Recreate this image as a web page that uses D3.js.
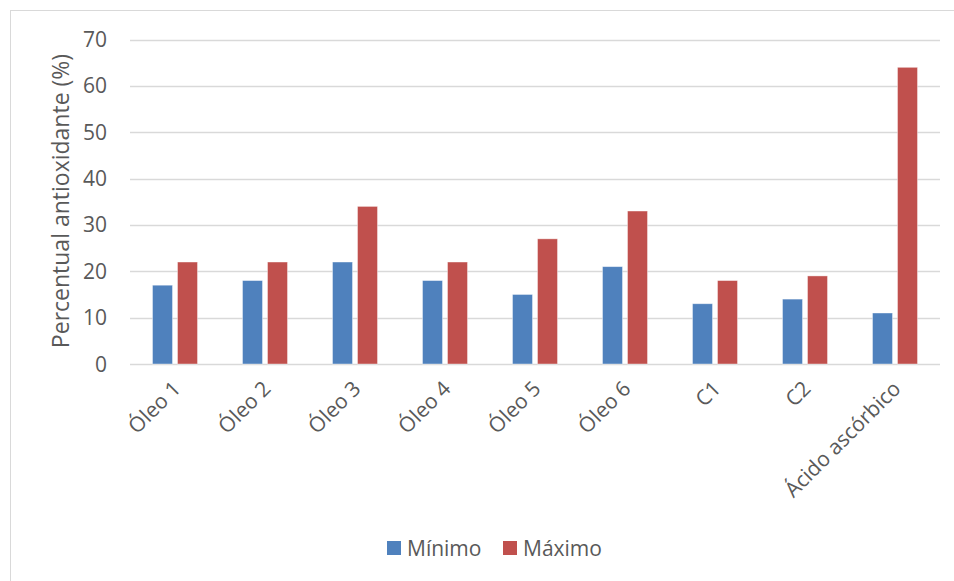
<!DOCTYPE html>
<html>
<head>
<meta charset="utf-8">
<script src="https://cdn.jsdelivr.net/npm/d3@7.9.0/dist/d3.min.js"></script>
<style>
  body { margin: 0; background: #fff; }
  svg text { font-family: "Open Sans", sans-serif; fill: #595959; }
</style>
</head>
<body>
<svg id="chart" width="954" height="581"></svg>
<script>
const categories = ['Óleo 1', 'Óleo 2', 'Óleo 3', 'Óleo 4', 'Óleo 5', 'Óleo 6', 'C1', 'C2', 'Ácido ascórbico'];
const minimo = [17, 18, 22, 18, 15, 21, 13, 14, 11];
const maximo = [22, 22, 34, 22, 27, 33, 18, 19, 64];
const seriesNames = ['Mínimo', 'Máximo'];
const yTicks = [0, 10, 20, 30, 40, 50, 60, 70];

const colors = ['#4F81BD', '#C0504D'];

const svg = d3.select('#chart');

// outer chart frame
svg.append('rect')
   .attr('x', 10.5).attr('y', 10.5)
   .attr('width', 960).attr('height', 600)
   .attr('fill', 'none')
   .attr('stroke', '#d9d9d9');

const plot = { left: 130, right: 940, top: 39.5, bottom: 364 };

const x = d3.scaleBand()
    .domain(categories)
    .range([plot.left, plot.right]);

const x1 = d3.scaleBand()
    .domain(seriesNames)
    .range([0, x.bandwidth()])
    .paddingInner(0.2)
    .paddingOuter(0.9);

const y = d3.scaleLinear()
    .domain([0, 70])
    .range([plot.bottom, plot.top]);

// gridlines
svg.append('g')
   .selectAll('line')
   .data(yTicks)
   .join('line')
   .attr('x1', plot.left).attr('x2', plot.right)
   .attr('y1', d => Math.round(y(d)) + 0.5)
   .attr('y2', d => Math.round(y(d)) + 0.5)
   .attr('stroke', '#d9d9d9')
   .attr('stroke-width', 1.3);

// y tick labels
svg.append('g')
   .selectAll('text')
   .data(yTicks)
   .join('text')
   .attr('x', 107)
   .attr('y', d => y(d))
   .attr('dy', '0.36em')
   .attr('text-anchor', 'end')
   .attr('font-size', 21)
   .text(d => d);

// bars
const data = categories.map((c, i) => ({ cat: c, values: [minimo[i], maximo[i]] }));

const groups = svg.append('g')
   .selectAll('g')
   .data(data)
   .join('g')
   .attr('transform', d => `translate(${x(d.cat)},0)`);

groups.selectAll('rect')
   .data(d => d.values.map((v, j) => ({ name: seriesNames[j], value: v, j })))
   .join('rect')
   .attr('x', d => x1(d.name))
   .attr('y', d => y(d.value))
   .attr('width', x1.bandwidth())
   .attr('height', d => y(0) - y(d.value))
   .attr('fill', d => colors[d.j])
   .attr('stroke', '#fff')
   .attr('stroke-opacity', 0.5)
   .attr('stroke-width', 0.8);

// x labels, rotated
svg.append('g')
   .selectAll('text')
   .data(categories)
   .join('text')
   .attr('transform', d => `translate(${x(d) + x.bandwidth() / 2 + 7},${plot.bottom + 26}) rotate(-45)`)
   .attr('text-anchor', 'end')
   .attr('font-size', 21)
   .text(d => d);

// y axis title
svg.append('text')
   .attr('transform', 'translate(69,201) rotate(-90)')
   .attr('text-anchor', 'middle')
   .attr('font-size', 23)
   .text('Percentual antioxidante (%)');

// legend
const legend = svg.append('g');
const legendX = [387, 503];
seriesNames.forEach((name, i) => {
  legend.append('rect')
     .attr('x', legendX[i]).attr('y', 541)
     .attr('width', 14).attr('height', 14)
     .attr('fill', colors[i]);
  legend.append('text')
     .attr('x', legendX[i] + 20).attr('y', 548)
     .attr('dy', '0.36em')
     .attr('font-size', 21)
     .text(name);
});
</script>
</body>
</html>
